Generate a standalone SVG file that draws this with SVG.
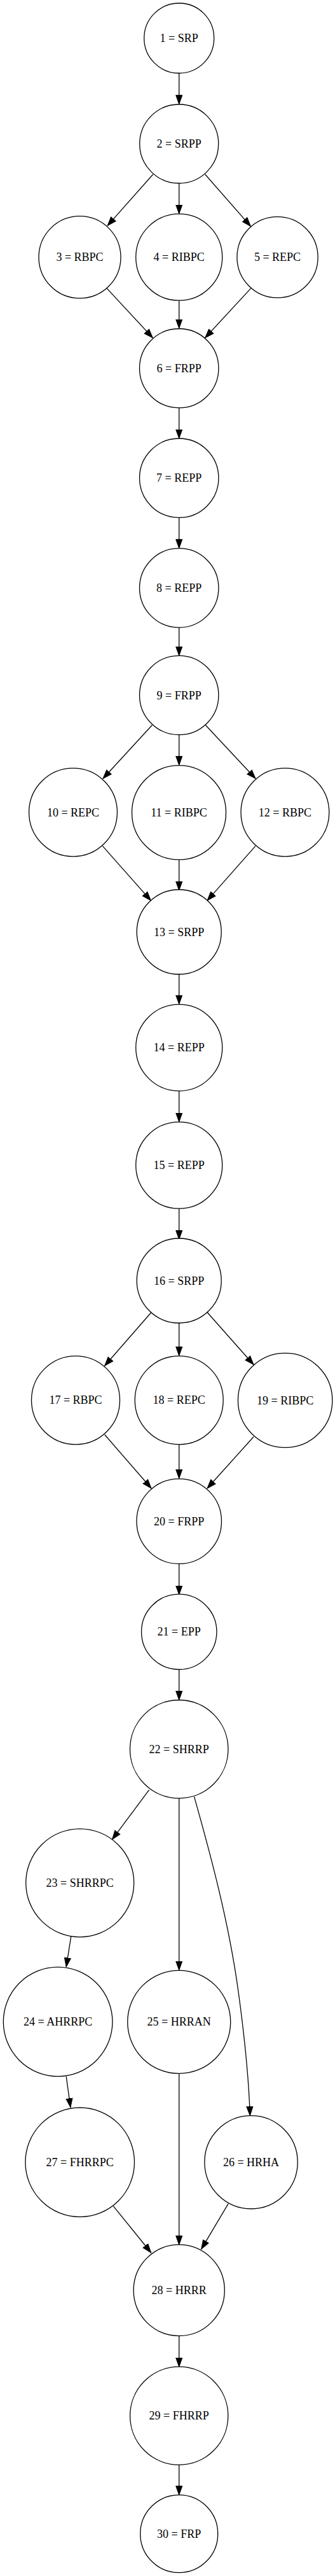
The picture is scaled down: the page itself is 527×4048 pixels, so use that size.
<svg xmlns="http://www.w3.org/2000/svg" width="527" height="4048" viewBox="0 0 527 4048">
<style>
.n circle{fill:#fff;stroke:#000;stroke-width:1.3}
.n text{font-family:"Liberation Serif","Times New Roman",serif;font-size:18px;text-anchor:middle;fill:#000}
#edges path{fill:none;stroke:#000;stroke-width:1.3;marker-end:url(#ah)}
</style>
<defs>
<marker id="ah" markerUnits="userSpaceOnUse" markerWidth="16" markerHeight="12" viewBox="0 -6 15 12" refX="14" refY="0" orient="auto">
<path d="M0,-5 L14,0 L0,5 z" fill="#000" stroke="#000" stroke-width="1"/>
</marker>
</defs>
<rect width="527" height="4048" fill="#fff"/>
<g id="edges">
<path d="M281.7,115 L281.7,163.7"/>
<path d="M240.7,274 L169.1,354.6"/>
<path d="M281.7,288 L281.7,336"/>
<path d="M322.7,274 L394.3,355.6"/>
<path d="M168.1,453.1 L240.3,530.9"/>
<path d="M281.7,472.3 L281.7,516"/>
<path d="M394.6,453.1 L322.7,530.9"/>
<path d="M281.7,641 L281.7,689"/>
<path d="M281.7,813.3 L281.7,861.7"/>
<path d="M281.7,986 L281.7,1030.3"/>
<path d="M239.3,1139.5 L162,1223.5"/>
<path d="M281.7,1154.6 L281.7,1202.4"/>
<path d="M323.4,1139.5 L402,1223.5"/>
<path d="M161.3,1329.4 L237.3,1415.1"/>
<path d="M281.7,1351.3 L281.7,1399.3"/>
<path d="M402,1329.4 L326,1415.1"/>
<path d="M281.7,1529.6 L281.7,1578"/>
<path d="M281.7,1714.5 L281.7,1763"/>
<path d="M281.7,1899.3 L281.7,1947.7"/>
<path d="M238,2062.2 L164.7,2146.2"/>
<path d="M281.7,2078 L281.7,2130.4"/>
<path d="M326,2062.2 L399,2144.5"/>
<path d="M164.7,2254.5 L238,2338.8"/>
<path d="M281.7,2270 L281.7,2323.4"/>
<path d="M399,2257.8 L326,2338.8"/>
<path d="M281.7,2457.8 L281.7,2506"/>
<path d="M281.7,2622.7 L281.7,2671.4"/>
<path d="M234.6,2812.6 L176.5,2890.6"/>
<path d="M281.7,2826 L281.7,3096"/>
<path d="M305.5,2823.4 C330,2910 360,3020 375,3130 C386,3210 391.5,3270 393.3,3324.4"/>
<path d="M111.9,3042 L104.2,3090.8"/>
<path d="M104.2,3263 L110.9,3311.6"/>
<path d="M178.2,3466.6 L237.7,3540"/>
<path d="M281.7,3258.8 L281.7,3527.5"/>
<path d="M359,3463.2 L316.7,3534.3"/>
<path d="M281.7,3670.5 L281.7,3719.3"/>
<path d="M281.7,3873.3 L281.7,3920.7"/>
</g>
<g id="n1" class="n"><circle cx="281.7" cy="60" r="55"/><text x="281.7" y="66">1 = SRP</text></g>
<g id="n2" class="n"><circle cx="281.7" cy="226" r="62"/><text x="281.7" y="232">2 = SRPP</text></g>
<g id="n3" class="n"><circle cx="125.5" cy="404.2" r="64.5"/><text x="125.5" y="410.2">3 = RBPC</text></g>
<g id="n4" class="n"><circle cx="281.7" cy="404.2" r="68"/><text x="281.7" y="410.2">4 = RIBPC</text></g>
<g id="n5" class="n"><circle cx="436.5" cy="404.2" r="63.6"/><text x="436.5" y="410.2">5 = REPC</text></g>
<g id="n6" class="n"><circle cx="281.7" cy="578.7" r="62.2"/><text x="281.7" y="584.7">6 = FRPP</text></g>
<g id="n7" class="n"><circle cx="281.7" cy="751.2" r="62.2"/><text x="281.7" y="757.2">7 = REPP</text></g>
<g id="n8" class="n"><circle cx="281.7" cy="923.9" r="62.2"/><text x="281.7" y="929.9">8 = REPP</text></g>
<g id="n9" class="n"><circle cx="281.7" cy="1092.5" r="62.2"/><text x="281.7" y="1098.5">9 = FRPP</text></g>
<g id="n10" class="n"><circle cx="115" cy="1276.5" r="69.4"/><text x="115" y="1282.5">10 = REPC</text></g>
<g id="n11" class="n"><circle cx="281.5" cy="1276.9" r="74"/><text x="281.5" y="1282.9">11 = RIBPC</text></g>
<g id="n12" class="n"><circle cx="448.4" cy="1276.5" r="69.4"/><text x="448.4" y="1282.5">12 = RBPC</text></g>
<g id="n13" class="n"><circle cx="281.7" cy="1464.5" r="66.5"/><text x="281.7" y="1470.5">13 = SRPP</text></g>
<g id="n14" class="n"><circle cx="281.7" cy="1646.3" r="68"/><text x="281.7" y="1652.3">14 = REPP</text></g>
<g id="n15" class="n"><circle cx="281.7" cy="1831.1" r="68"/><text x="281.7" y="1837.1">15 = REPP</text></g>
<g id="n16" class="n"><circle cx="281.7" cy="2012.5" r="66.5"/><text x="281.7" y="2018.5">16 = SRPP</text></g>
<g id="n17" class="n"><circle cx="119" cy="2200.3" r="69.5"/><text x="119" y="2206.3">17 = RBPC</text></g>
<g id="n18" class="n"><circle cx="281.7" cy="2200.3" r="69.5"/><text x="281.7" y="2206.3">18 = REPC</text></g>
<g id="n19" class="n"><circle cx="448.6" cy="2200.5" r="74.2"/><text x="448.6" y="2206.5">19 = RIBPC</text></g>
<g id="n20" class="n"><circle cx="281.7" cy="2390.6" r="66.8"/><text x="281.7" y="2396.6">20 = FRPP</text></g>
<g id="n21" class="n"><circle cx="281.7" cy="2564.3" r="59.2"/><text x="281.7" y="2570.3">21 = EPP</text></g>
<g id="n22" class="n"><circle cx="281.7" cy="2748.7" r="77.2"/><text x="281.7" y="2754.7">22 = SHRRP</text></g>
<g id="n23" class="n"><circle cx="125.7" cy="2958.8" r="85"/><text x="125.7" y="2964.8">23 = SHRRPC</text></g>
<g id="n24" class="n"><circle cx="91.1" cy="3177" r="85.8"/><text x="91.1" y="3183">24 = AHRRPC</text></g>
<g id="n25" class="n"><circle cx="281.7" cy="3177.4" r="81"/><text x="281.7" y="3183.4">25 = HRRAN</text></g>
<g id="n26" class="n"><circle cx="395" cy="3397.8" r="73.2"/><text x="395" y="3403.8">26 = HRHA</text></g>
<g id="n27" class="n"><circle cx="125.7" cy="3397.8" r="85.8"/><text x="125.7" y="3403.8">27 = FHRRPC</text></g>
<g id="n28" class="n"><circle cx="281.7" cy="3599" r="71.6"/><text x="281.7" y="3605">28 = HRRR</text></g>
<g id="n29" class="n"><circle cx="281.7" cy="3796.3" r="77.1"/><text x="281.7" y="3802.3">29 = FHRRP</text></g>
<g id="n30" class="n"><circle cx="281.7" cy="3981.7" r="61"/><text x="281.7" y="3987.7">30 = FRP</text></g>
</svg>
